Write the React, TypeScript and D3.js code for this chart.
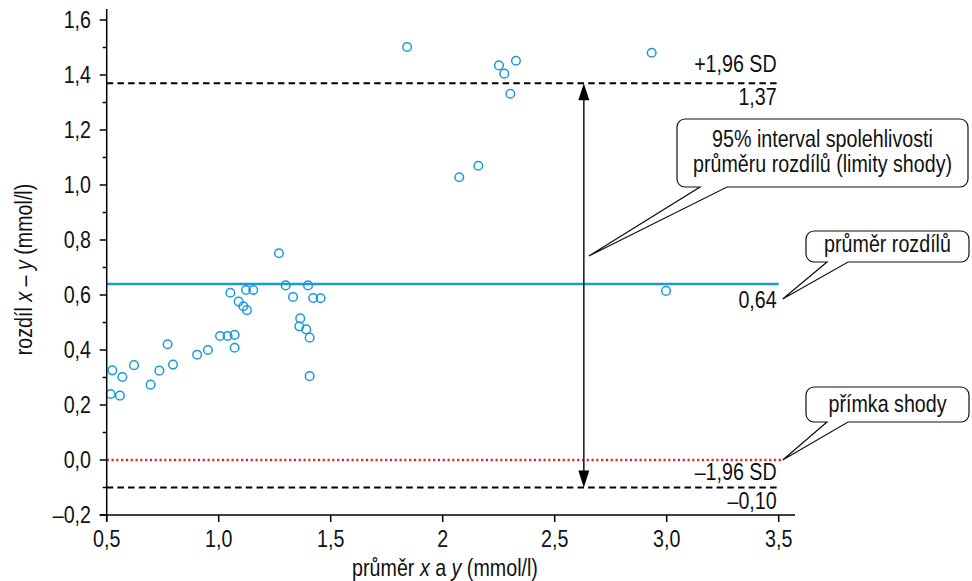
import React from "react";
import * as d3 from "d3";

// Bland–Altman data: mean of the two methods (x) vs. their difference (y)
const meanXY = [
  0.518, 0.525, 0.559, 0.57, 0.622, 0.696, 0.735, 0.772, 0.796, 0.904, 0.952,
  1.006, 1.04, 1.071, 1.071, 1.052, 1.089, 1.11, 1.126, 1.122, 1.154, 1.269,
  1.299, 1.332, 1.364, 1.36, 1.391, 1.399, 1.406, 1.422, 1.455, 1.406, 1.841,
  2.074, 2.159, 2.251, 2.275, 2.302, 2.327, 2.933, 2.997,
];
const diffXY = [
  0.24, 0.326, 0.234, 0.302, 0.345, 0.274, 0.325, 0.421, 0.347, 0.383, 0.4,
  0.451, 0.451, 0.455, 0.408, 0.608, 0.576, 0.559, 0.545, 0.618, 0.618, 0.752,
  0.635, 0.593, 0.515, 0.486, 0.475, 0.635, 0.445, 0.589, 0.588, 0.305, 1.502,
  1.028, 1.07, 1.435, 1.405, 1.332, 1.452, 1.481, 0.615,
];

const xTicks = [0.5, 1.0, 1.5, 2.0, 2.5, 3.0, 3.5];
const xTickLabels = ["0,5", "1,0", "1,5", "2", "2,5", "3,0", "3,5"];
const yTicks = [-0.2, 0, 0.2, 0.4, 0.6, 0.8, 1.0, 1.2, 1.4, 1.6];
const yTickLabels = ["–0,2", "0,0", "0,2", "0,4", "0,6", "0,8", "1,0", "1,2", "1,4", "1,6"];
const yMinorTicks = [-0.1, 0.1, 0.3, 0.5, 0.7, 0.9, 1.1, 1.3, 1.5];

const meanDiff = 0.64;
const upperLoA = 1.37;
const lowerLoA = -0.1;
const arrowAt = 2.63;

const W = 972;
const H = 581;
const FONT = "'Liberation Sans', Arial, sans-serif";
const FS = 24;
const SX = 0.82; // horizontal squeeze for a condensed look
const BLUE = "#1b9ad8";
const RED = "#e4262c";

const x = d3.scaleLinear().domain([0.5, 3.5]).range([106.7, 778.7]);
const y = d3.scaleLinear().domain([-0.2, 1.6]).range([515, 20]);

type Anchor = "start" | "middle" | "end";

function T({
  x: tx, y: ty, anchor = "start", rotate = 0, children,
}: { x: number; y: number; anchor?: Anchor; rotate?: number; children: React.ReactNode }) {
  return (
    <text
      transform={`translate(${tx},${ty}) rotate(${rotate}) scale(${SX},1)`}
      textAnchor={anchor}
      fill="#111"
    >
      {children}
    </text>
  );
}

// Speech-bubble outline: rounded box with a tail leaving the bottom edge
function bubble(
  x0: number, y0: number, x1: number, y1: number, r: number,
  t1: number, t2: number, tipX: number, tipY: number
) {
  return [
    `M${x0 + r},${y0}`,
    `H${x1 - r}`,
    `A${r},${r} 0 0 1 ${x1},${y0 + r}`,
    `V${y1 - r}`,
    `A${r},${r} 0 0 1 ${x1 - r},${y1}`,
    `H${t2}`,
    `L${tipX},${tipY}`,
    `L${t1},${y1}`,
    `H${x0 + r}`,
    `A${r},${r} 0 0 1 ${x0},${y1 - r}`,
    `V${y0 + r}`,
    `A${r},${r} 0 0 1 ${x0 + r},${y0}`,
    "Z",
  ].join(" ");
}

export default function App() {
  const x0 = x(0.5);
  const x1 = x(3.5);
  const y0 = y(-0.2);
  const ax = x(arrowAt);
  const yUp = y(upperLoA);
  const yLo = y(lowerLoA);
  const head = 17;
  const hw = 5.5;

  return (
    <svg
      width={W}
      height={H}
      viewBox={`0 0 ${W} ${H}`}
      style={{ position: "absolute", left: 0, top: 0, background: "#fff" }}
      fontFamily={FONT}
      fontSize={FS}
    >
      {/* reference lines */}
      <line x1={x0} x2={x1} y1={yUp} y2={yUp} stroke="#000" strokeWidth={2} strokeDasharray="6.5,4.2" />
      <line x1={x0} x2={x1} y1={yLo} y2={yLo} stroke="#000" strokeWidth={2} strokeDasharray="6.5,4.2" />
      <line x1={x0} x2={x1 + 4} y1={y(0)} y2={y(0)} stroke={RED} strokeWidth={2.4} strokeDasharray="2.2,2.6" />
      <line x1={x0} x2={x1} y1={y(meanDiff)} y2={y(meanDiff)} stroke={BLUE} strokeWidth={2.6} />

      {/* points */}
      {meanXY.map((m, i) => (
        <circle key={i} cx={x(m)} cy={y(diffXY[i])} r={4.3} fill="none" stroke={BLUE} strokeWidth={1.5} />
      ))}

      {/* double-headed arrow spanning the limits of agreement */}
      <line x1={ax} x2={ax} y1={yUp + head - 1} y2={yLo - head + 1} stroke="#222" strokeWidth={1.6} />
      <path d={`M${ax},${yUp} L${ax - hw},${yUp + head} L${ax + hw},${yUp + head} Z`} fill="#000" />
      <path d={`M${ax},${yLo} L${ax - hw},${yLo - head} L${ax + hw},${yLo - head} Z`} fill="#000" />

      {/* line labels */}
      <T x={x1 - 2} y={yUp - 11} anchor="end">+1,96 SD</T>
      <T x={x1 - 2} y={yUp + 22} anchor="end">1,37</T>
      <T x={x1 - 2} y={y(meanDiff) + 24} anchor="end">0,64</T>
      <T x={x1 - 2} y={yLo - 8} anchor="end">–1,96 SD</T>
      <T x={x1 - 2} y={yLo + 21} anchor="end">–0,10</T>

      {/* callouts */}
      <g fill="#fff" stroke="#111" strokeWidth={1.2}>
        <path d={bubble(677, 119, 968, 187, 8, 700, 727, ax + 5, 256)} />
        <path d={bubble(806, 231, 969, 262, 8, 827, 848, x1 + 4, y(meanDiff) + 15)} />
        <path d={bubble(806, 387, 969, 422, 8, 827, 848, x1 + 4, y(0))} />
      </g>
      <T x={822.5} y={147} anchor="middle">95% interval spolehlivosti</T>
      <T x={822.5} y={172} anchor="middle">průměru rozdílů (limity shody)</T>
      <T x={887.5} y={252} anchor="middle">průměr rozdílů</T>
      <T x={887.5} y={412} anchor="middle">přímka shody</T>

      {/* axes */}
      <g stroke="#000" strokeWidth={1.5}>
        <line x1={x0} x2={x0} y1={9} y2={y0 + 6} />
        <line x1={x0 - 7} x2={795} y1={y0} y2={y0} />
        {xTicks.map((t, i) => (
          <line key={"xt" + i} x1={x(t)} x2={x(t)} y1={y0} y2={y0 + 7} />
        ))}
        {yTicks.map((t, i) => (
          <line key={"yt" + i} x1={x0 - 7} x2={x0} y1={y(t)} y2={y(t)} />
        ))}
        {yMinorTicks.map((t, i) => (
          <line key={"ym" + i} x1={x0 - 4} x2={x0} y1={y(t)} y2={y(t)} />
        ))}
      </g>
      {xTicks.map((t, i) => (
        <T key={"xl" + i} x={x(t)} y={547} anchor="middle">{xTickLabels[i]}</T>
      ))}
      {yTicks.map((t, i) => (
        <T key={"yl" + i} x={91} y={y(t) + 8.3} anchor="end">{yTickLabels[i]}</T>
      ))}

      {/* axis titles */}
      <T x={445} y={576} anchor="middle">
        průměr <tspan fontStyle="italic">x</tspan> a <tspan fontStyle="italic">y</tspan> (mmol/l)
      </T>
      <T x={32} y={(y(-0.2) + y(1.6)) / 2 + 2} anchor="middle" rotate={-90}>
        rozdíl <tspan fontStyle="italic">x</tspan> – <tspan fontStyle="italic">y</tspan> (mmol/l)
      </T>
    </svg>
  );
}
